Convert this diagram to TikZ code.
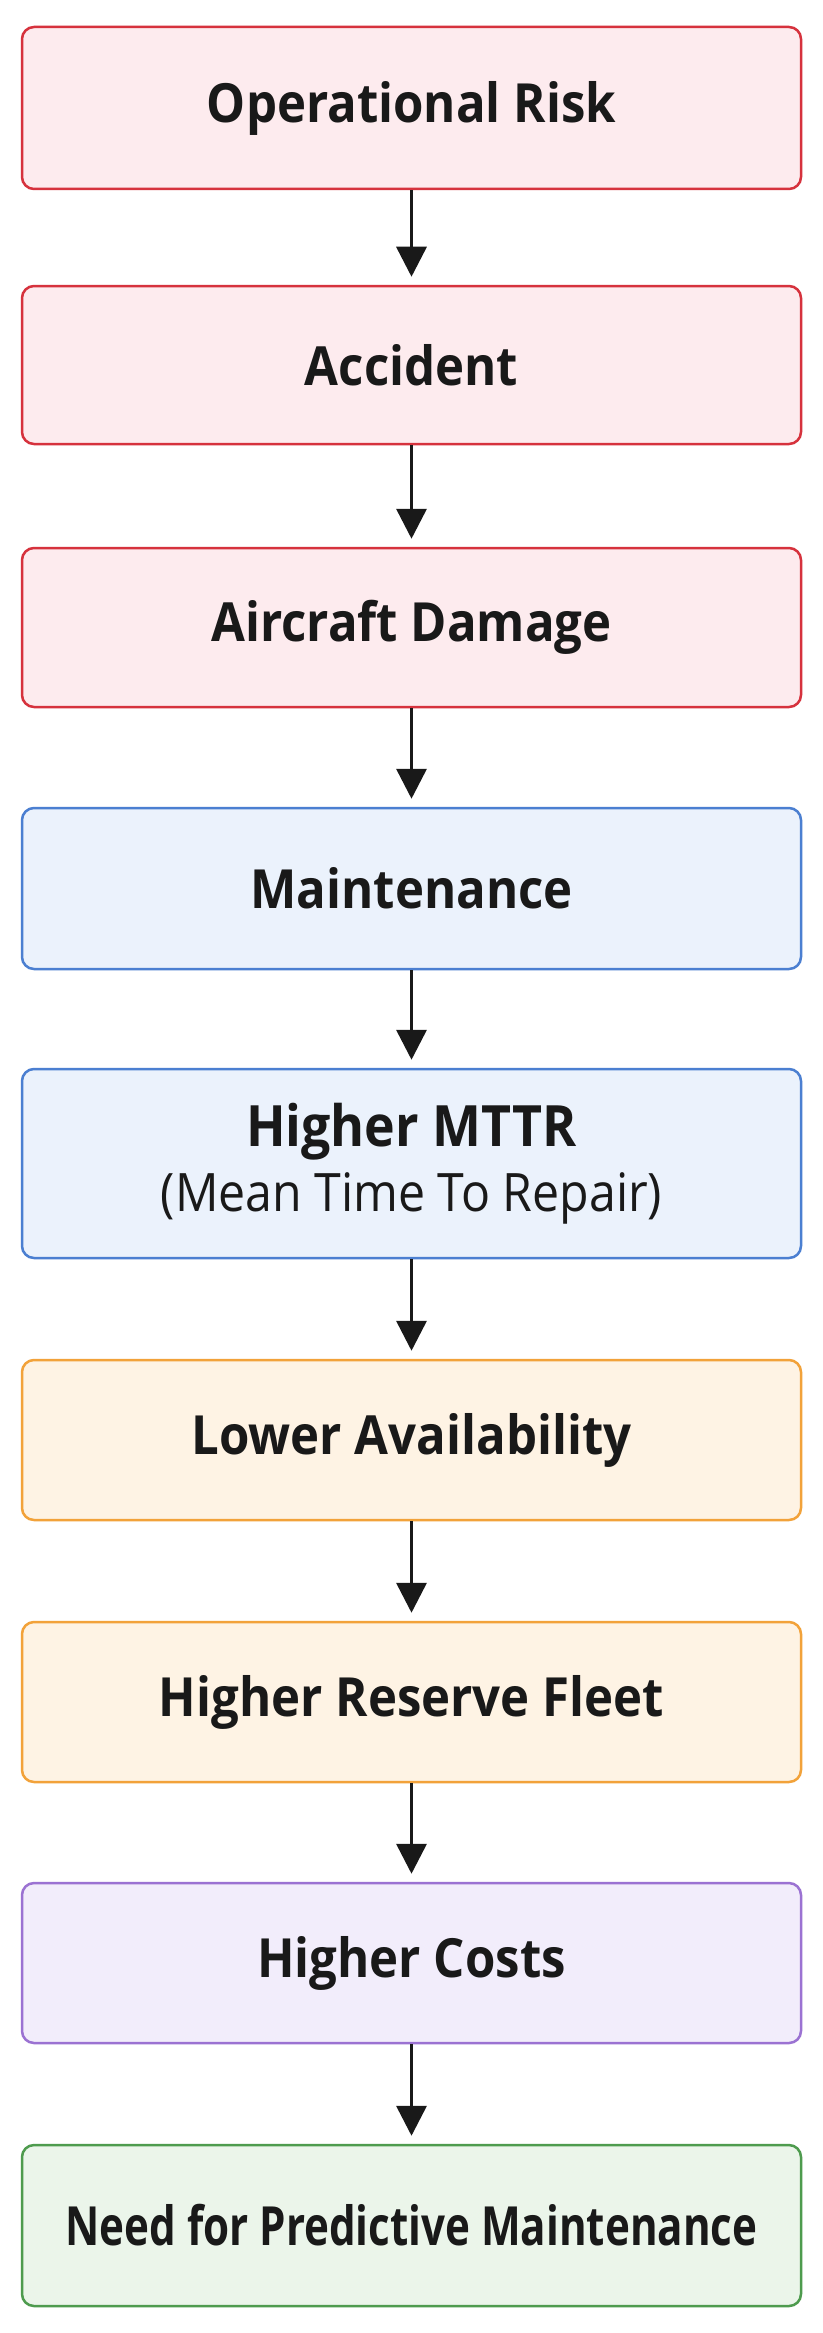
\documentclass[tikz,border=0pt]{standalone}
\usepackage{fontspec}
\setmainfont{Open Sans}[FakeStretch=0.91]
\newfontfamily\narrowfont{Open Sans}[FakeStretch=0.78]
\usetikzlibrary{arrows.meta}
\definecolor{redD}{HTML}{D6323D}
\definecolor{redF}{HTML}{FDEBEE}
\definecolor{blueD}{HTML}{4B7FD1}
\definecolor{blueF}{HTML}{EBF2FC}
\definecolor{orgD}{HTML}{F2A23A}
\definecolor{orgF}{HTML}{FEF3E4}
\definecolor{purD}{HTML}{9B72D2}
\definecolor{purF}{HTML}{F2EDFB}
\definecolor{grnD}{HTML}{4E9B4E}
\definecolor{grnF}{HTML}{EBF5EA}
\begin{document}
\begin{tikzpicture}[x=1pt,y=-1pt,
  box/.style={rectangle, rounded corners=12pt, line width=2.5pt, minimum width=779pt,
    inner sep=0pt, align=center, text=black!90, font=\fontsize{54}{60}\selectfont\bfseries},
  redbox/.style={box, draw=redD, fill=redF},
  bluebox/.style={box, draw=blueD, fill=blueF},
  orgbox/.style={box, draw=orgD, fill=orgF},
  purbox/.style={box, draw=purD, fill=purF},
  grnbox/.style={box, draw=grnD, fill=grnF},
  arr/.style={-{Triangle[width=30pt,length=30pt]}, line width=3.5pt, black!90, shorten >=8pt}]
\useasboundingbox (0,0) rectangle (822,2333);
\fill[white] (0,0) rectangle (822,2333);

\node[redbox, minimum height=162pt] (n1) at (411.5,108) {Operational Risk};
\node[redbox, minimum height=158pt] (n2) at (411.5,365) {Accident};
\node[redbox, minimum height=159pt] (n3) at (411.5,627.5) {Aircraft Damage};
\node[bluebox, minimum height=161pt] (n4) at (411.5,888.5) {Maintenance};
\node[bluebox, minimum height=189pt] (n5) at (411.5,1163.5)
  {\fontsize{57}{62}\selectfont Higher MTTR\\[5pt]
   \fontsize{53}{60}\selectfont\mdseries (Mean Time To Repair)};
\node[orgbox, minimum height=160pt] (n6) at (411.5,1440) {Lower Availability};
\node[orgbox, minimum height=160pt] (n7) at (411.5,1702) {Higher Reserve Fleet};
\node[purbox, minimum height=160pt] (n8) at (411.5,1963) {Higher Costs};
\node[grnbox, minimum height=161pt] (n9) at (411.5,2225.5) {\narrowfont\bfseries Need for Predictive Maintenance};

\draw[arr] (n1.south) -- (n2.north);
\draw[arr] (n2.south) -- (n3.north);
\draw[arr] (n3.south) -- (n4.north);
\draw[arr] (n4.south) -- (n5.north);
\draw[arr] (n5.south) -- (n6.north);
\draw[arr] (n6.south) -- (n7.north);
\draw[arr] (n7.south) -- (n8.north);
\draw[arr] (n8.south) -- (n9.north);
\end{tikzpicture}
\end{document}
